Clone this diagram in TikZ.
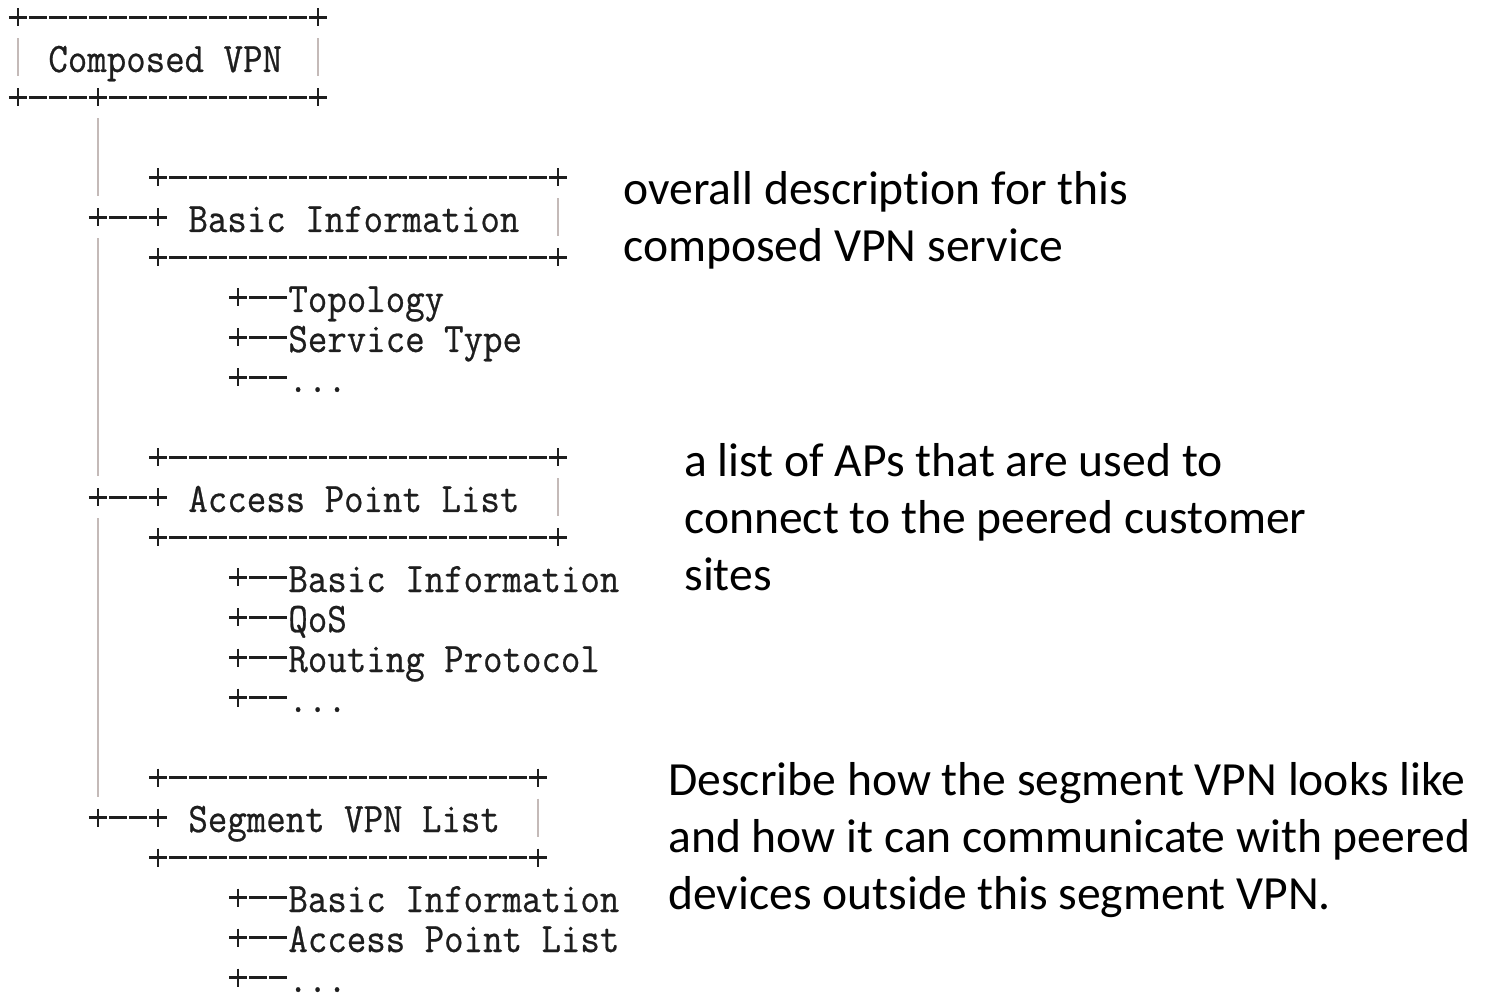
\documentclass[tikz,border=0pt]{standalone}
\usepackage{fontspec}
\setmainfont{Carlito}[Ligatures=NoCommon]
\setmonofont{Latin Modern Mono}[FakeBold=0.6, FakeStretch=0.9]
\usetikzlibrary{calc}
\definecolor{ink}{RGB}{30,30,30}
\definecolor{barc}{RGB}{196,186,184}
\tikzset{
  dashrun/.style={draw=ink, line width=1.2pt, dash pattern=on 9pt off 1pt},
  arm/.style={draw=ink, line width=1.2pt},
  bar/.style={draw=barc, line width=1pt},
  mono/.style={font=\fontsize{21pt}{24pt}\ttfamily, text=ink, inner sep=0pt, anchor=base west},
  note/.style={font=\fontsize{23.8pt}{28.5pt}\selectfont, text=black, inner sep=0pt, anchor=base west},
  plusarm/.pic={\draw[arm] (0,4.5pt) -- (0,-4.5pt);}
}
% a titled box drawn in ASCII style: name, title row, right column, title
\newcommand\asciibox[4]{%
  \coordinate (#1-w)  at (7,#2);
  \coordinate (#1-nw) at (7,{#2-1});
  \coordinate (#1-ne) at (#3,{#2-1});
  \coordinate (#1-sw) at (7,{#2+1});
  \coordinate (#1-se) at (#3,{#2+1});
  \coordinate (#1-e)  at (#3,#2);
  \node[mono] (#1) at (8.5,{#2+0.3625}) {#4};
  \draw[dashrun] ([xshift=-4.5pt]#1-nw) -- ([xshift=4.5pt]#1-ne);
  \draw[dashrun] ([xshift=-4.5pt]#1-sw) -- ([xshift=4.5pt]#1-se);
  \pic at (#1-nw) {plusarm};
  \pic at (#1-ne) {plusarm};
  \pic at (#1-sw) {plusarm};
  \pic at (#1-se) {plusarm};
  \pic at (#1-w)  {plusarm};
  \draw[bar] ($(#1-e)+(0,-0.475)$) -- ($(#1-e)+(0,0.475)$);
}
% a child entry "+--text": name, row, text
\newcommand\leaf[3]{%
  \coordinate (#1-p) at (11,#2);
  \node[mono] (#1) at (13.5,{#2+0.3625}) {#3};
  \draw[dashrun] ($(#1-p)+(-0.45,0)$) -- ($(#1-p)+(2.45,0)$);
  \pic at (#1-p) {plusarm};
}
\begin{document}
\begin{tikzpicture}[x=10pt,y=-20pt]
  % page
  \fill[white] (-0.9,-0.4375) rectangle (73.55,24.4125);
  \useasboundingbox (-0.9,-0.4375) rectangle (73.55,24.4125);

  % root box
  \coordinate (cTL) at (0,0);
  \coordinate (cTR) at (15,0);
  \coordinate (cBL) at (0,2);
  \coordinate (cBR) at (15,2);
  \coordinate (cB)  at (4,2);
  \node[mono] (comp) at (1.5,1.3625) {Composed VPN};
  \draw[dashrun] ([xshift=-4.5pt]cTL) -- ([xshift=4.5pt]cTR);
  \draw[dashrun] ([xshift=-4.5pt]cBL) -- ([xshift=4.5pt]cBR);
  \foreach \p in {cTL,cTR,cBL,cBR,cB} \pic at (\p) {plusarm};
  \draw[bar] (0,0.525) -- (0,1.475);
  \draw[bar] (15,0.525) -- (15,1.475);

  % trunk junctions
  \coordinate (j1) at (4,5);
  \coordinate (j2) at (4,12);
  \coordinate (j3) at (4,20);
  \draw[bar] ($(cB)+(0,0.525)$) -- ($(j1)+(0,-0.525)$);
  \draw[bar] ($(j1)+(0,0.525)$) -- ($(j2)+(0,-0.525)$);
  \draw[bar] ($(j2)+(0,0.525)$) -- ($(j3)+(0,-0.525)$);

  % second-level boxes
  \asciibox{basic}{5}{27}{Basic Information}
  \asciibox{aplist}{12}{27}{Access Point List}
  \asciibox{seglist}{20}{26}{Segment VPN List}

  % branches from the trunk
  \foreach \j/\b in {j1/basic,j2/aplist,j3/seglist}{
    \draw[dashrun] ([xshift=-4.5pt]\j) -- ([xshift=4.5pt]\b-w);
    \pic at (\j) {plusarm};
  }

  % children
  \leaf{topo}{7}{Topology}
  \leaf{stype}{8}{Service Type}
  \leaf{bmore}{9}{...}
  \leaf{apbasic}{14}{Basic Information}
  \leaf{qos}{15}{QoS}
  \leaf{routing}{16}{Routing Protocol}
  \leaf{apmore}{17}{...}
  \leaf{segbasic}{22}{Basic Information}
  \leaf{segap}{23}{Access Point List}
  \leaf{segmore}{24}{...}

  % descriptions
  \node[note] (d1a) at (30.25,4.6875)  {overall description for this};
  \node[note] (d1b) at (30.25,6.1125)  {composed VPN service};
  \node[note] (d2a) at (33.3,11.4875)  {a list of APs that are used to};
  \node[note] (d2b) at (33.3,12.9125)  {connect to the peered customer};
  \node[note] (d2c) at (33.3,14.3375)  {sites};
  \node[note] (d3a) at (32.5,19.46)    {Describe how the segment VPN looks like};
  \node[note] (d3b) at (32.5,20.885)   {and how it can communicate with peered};
  \node[note] (d3c) at (32.5,22.31)    {devices outside this segment VPN.};
\end{tikzpicture}
\end{document}
